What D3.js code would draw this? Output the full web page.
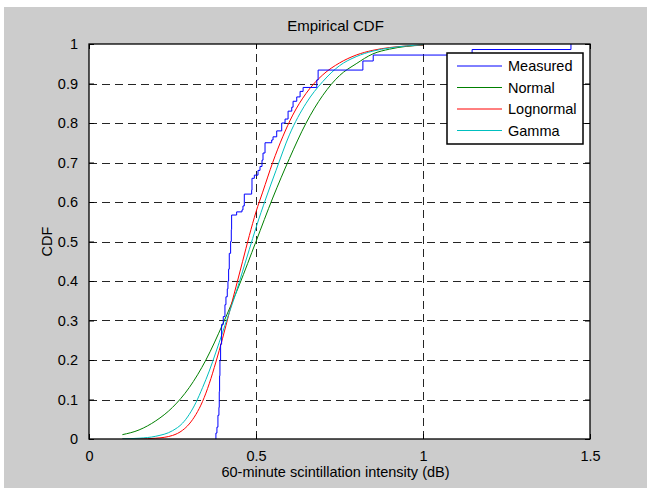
<!DOCTYPE html>
<html><head><meta charset="utf-8">
<script src="https://cdn.jsdelivr.net/npm/d3@7"></script>
<style>
html,body{margin:0;padding:0;background:#fff;}
svg{display:block;font-family:"Liberation Sans",Arial,Helvetica,sans-serif;}
</style></head>
<body>
<script>
// ---- data ----
const title = "Empirical CDF";
const xLabel = "60-minute scintillation intensity (dB)";
const yLabel = "CDF";
const xTicks = [0, 0.5, 1, 1.5];
const yTicks = [0, 0.1, 0.2, 0.3, 0.4, 0.5, 0.6, 0.7, 0.8, 0.9, 1];
const seriesNames = ["Measured", "Normal", "Lognormal", "Gamma"];
const seriesColors = ["#0000ff", "#008000", "#ff0000", "#00bfbf"];

// Measured ECDF: step positions [x, cdf after step]
const measured = [
  [0.380,0],[0.380,0.015],[0.383,0.03],[0.386,0.06],[0.389,0.08],[0.390,0.12],[0.391,0.16],
  [0.392,0.20],[0.394,0.24],[0.397,0.29],[0.402,0.31],[0.407,0.34],[0.410,0.36],[0.414,0.38],
  [0.416,0.40],[0.418,0.43],[0.420,0.47],[0.424,0.50],[0.426,0.53],[0.427,0.567],[0.442,0.575],
  [0.458,0.58],[0.461,0.59],[0.465,0.62],[0.487,0.63],[0.488,0.66],[0.495,0.668],[0.506,0.68],
  [0.512,0.69],[0.518,0.706],[0.521,0.724],[0.527,0.75],[0.547,0.757],[0.551,0.765],[0.562,0.78],
  [0.577,0.80],[0.587,0.81],[0.596,0.83],[0.607,0.84],[0.611,0.855],[0.622,0.866],[0.632,0.88],
  [0.641,0.89],[0.682,0.909],[0.686,0.934],[0.820,0.957],[0.851,0.972],[1.147,0.986],[1.443,1.0]
];
// Fitted CDFs: [x, cdf]
const normalFit = [
  [0.10,0.011],[0.15,0.023],[0.20,0.046],[0.25,0.08],[0.30,0.13],[0.35,0.20],[0.40,0.29],
  [0.45,0.39],[0.50,0.50],[0.55,0.61],[0.60,0.71],[0.65,0.80],[0.70,0.87],[0.75,0.92],
  [0.80,0.95],[0.85,0.975],[0.90,0.987],[0.95,0.994],[1.00,0.997]
];
const lognormalFit = [
  [0.10,0.0],[0.15,0.0003],[0.20,0.002],[0.25,0.009],[0.28,0.022],[0.30,0.038],[0.32,0.062],
  [0.34,0.095],[0.36,0.14],[0.38,0.195],[0.40,0.255],[0.42,0.32],[0.44,0.385],[0.46,0.45],
  [0.48,0.515],[0.50,0.575],[0.52,0.625],[0.55,0.70],[0.58,0.765],[0.61,0.82],[0.65,0.875],
  [0.70,0.922],[0.75,0.952],[0.80,0.972],[0.85,0.984],[0.90,0.991],[0.95,0.995],[1.00,0.997]
];
const gammaFit = [
  [0.10,0.0005],[0.15,0.002],[0.20,0.007],[0.25,0.021],[0.28,0.04],[0.30,0.062],[0.32,0.092],
  [0.34,0.13],[0.36,0.172],[0.38,0.22],[0.40,0.27],[0.42,0.32],[0.44,0.37],[0.46,0.425],
  [0.48,0.48],[0.50,0.535],[0.53,0.61],[0.56,0.68],[0.60,0.77],[0.65,0.85],[0.70,0.905],
  [0.75,0.945],[0.80,0.968],[0.85,0.982],[0.90,0.99],[0.95,0.995],[1.00,0.998]
];

// ---- layout ----
const W = 647, H = 488;
const m = {left: 89, top: 44, right: 590, bottom: 439};

const svg = d3.select("body").append("svg").attr("width", W).attr("height", H);
svg.append("rect").attr("x", 4).attr("y", 7).attr("width", W - 4).attr("height", H - 7).attr("fill", "#cccccc");

const x = d3.scaleLinear().domain([0, 1.5]).range([m.left, m.right]);
const y = d3.scaleLinear().domain([0, 1]).range([m.bottom, m.top]);

svg.append("rect").attr("x", m.left).attr("y", m.top)
  .attr("width", m.right - m.left).attr("height", m.bottom - m.top).attr("fill", "#fff");

// grid
const grid = svg.append("g").attr("stroke", "#000").attr("stroke-width", 1)
  .attr("stroke-dasharray", "8,5").attr("shape-rendering", "crispEdges").attr("opacity", 0.85);
xTicks.filter(t => t > 0 && t < 1.5).forEach(t => {
  grid.append("line").attr("x1", Math.round(x(t)) + 0.5).attr("x2", Math.round(x(t)) + 0.5)
    .attr("y1", m.bottom).attr("y2", m.top);
});
yTicks.filter(t => t > 0 && t < 1).forEach(t => {
  grid.append("line").attr("y1", Math.round(y(t)) + 0.5).attr("y2", Math.round(y(t)) + 0.5)
    .attr("x1", m.left).attr("x2", m.right);
});

// curves
const plot = svg.append("g");
svg.append("clipPath").attr("id", "clip").append("rect")
  .attr("x", m.left).attr("y", m.top - 1).attr("width", m.right - m.left).attr("height", m.bottom - m.top + 1);
plot.attr("clip-path", "url(#clip)");

const smooth = d3.line().x(d => x(d[0])).y(d => y(d[1])).curve(d3.curveMonotoneX);
const step = d3.line().x(d => x(d[0])).y(d => y(d[1])).curve(d3.curveStepAfter);

plot.append("path").datum(normalFit).attr("d", smooth).attr("fill", "none").attr("stroke", seriesColors[1]).attr("stroke-width", 1);
plot.append("path").datum(lognormalFit).attr("d", smooth).attr("fill", "none").attr("stroke", seriesColors[2]).attr("stroke-width", 1);
plot.append("path").datum(gammaFit).attr("d", smooth).attr("fill", "none").attr("stroke", seriesColors[3]).attr("stroke-width", 1);
plot.append("path").datum(measured).attr("d", step).attr("fill", "none").attr("stroke", seriesColors[0]).attr("stroke-width", 1);

// axes (ticks inside, matlab style)
const tickLen = 5;
const axB = svg.append("g").attr("transform", `translate(0,${m.bottom})`)
  .call(d3.axisBottom(x).tickValues(xTicks).tickFormat(d3.format("")).tickSizeInner(-tickLen).tickSizeOuter(0).tickPadding(12));
const axT = svg.append("g").attr("transform", `translate(0,${m.top})`)
  .call(d3.axisTop(x).tickValues(xTicks).tickFormat("").tickSizeInner(-tickLen).tickSizeOuter(0));
const axL = svg.append("g").attr("transform", `translate(${m.left},0)`)
  .call(d3.axisLeft(y).tickValues(yTicks).tickFormat(d3.format("")).tickSizeInner(-tickLen).tickSizeOuter(0).tickPadding(11));
const axR = svg.append("g").attr("transform", `translate(${m.right},0)`)
  .call(d3.axisRight(y).tickValues(yTicks).tickFormat("").tickSizeInner(-tickLen).tickSizeOuter(0));
[axB, axT, axL, axR].forEach(a => {
  a.select(".domain").remove();
  a.selectAll("line").attr("stroke", "#000");
  a.selectAll("text").attr("fill", "#000").attr("font-size", 14.5).attr("font-family", "Liberation Sans, Arial, sans-serif");
});
svg.append("rect").attr("x", m.left).attr("y", m.top)
  .attr("width", m.right - m.left).attr("height", m.bottom - m.top)
  .attr("fill", "none").attr("stroke", "#000").attr("stroke-width", 1.3);

// labels
svg.append("text").attr("x", (m.left + m.right) / 2 - 4).attr("y", 31).attr("text-anchor", "middle")
  .attr("font-size", 15).text(title);
svg.append("text").attr("x", (m.left + m.right) / 2 - 4).attr("y", 477).attr("text-anchor", "middle")
  .attr("font-size", 14.5).text(xLabel);
svg.append("text").attr("transform", `translate(52,${(m.top + m.bottom) / 2}) rotate(-90)`)
  .attr("text-anchor", "middle").attr("font-size", 14.5).text(yLabel);

// legend
const lg = svg.append("g").attr("transform", "translate(447,53)");
lg.append("rect").attr("width", 136).attr("height", 91).attr("fill", "#fff")
  .attr("stroke", "#000").attr("stroke-width", 1.5);
seriesNames.forEach((n, i) => {
  const yy = 13 + i * 21.5;
  lg.append("line").attr("x1", 10).attr("x2", 55).attr("y1", yy).attr("y2", yy)
    .attr("stroke", seriesColors[i]).attr("stroke-width", 1);
  lg.append("text").attr("x", 61).attr("y", yy + 5).attr("font-size", 14.5).text(n);
});
</script>
</body></html>
